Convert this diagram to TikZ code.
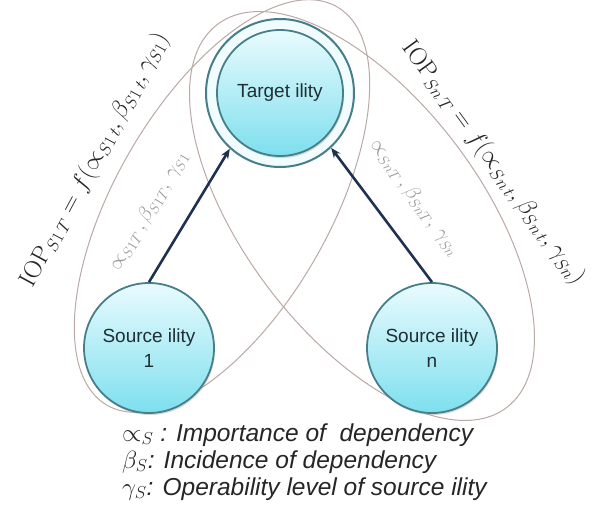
\documentclass[tikz,border=0pt]{standalone}
\usepackage[no-math]{fontspec}
\setmainfont{Liberation Sans}
\usetikzlibrary{arrows.meta,shadows}
\definecolor{ell}{HTML}{BBA9A6}
\definecolor{arrowc}{HTML}{1E3250}
\definecolor{rim}{HTML}{467F89}
\definecolor{ctop}{HTML}{E9FBFE}
\definecolor{cbot}{HTML}{7EDFEE}
\definecolor{graytxt}{HTML}{9A9A9A}
\definecolor{nodetxt}{HTML}{1F2F33}
\begin{document}
\begin{tikzpicture}[x=1pt,y=-1pt,
  ellipseline/.style={draw=ell, line width=1pt},
  ball/.style={circle, draw=rim, line width=1.8pt, top color=ctop, bottom color=cbot,
    minimum size=130pt, inner sep=0pt, align=center, text=nodetxt,
    font=\fontsize{19}{25}\selectfont,
    drop shadow={shadow xshift=1pt, shadow yshift=-2pt, opacity=0.3}},
  ring/.style={circle, draw=rim, line width=2pt, fill=ctop!70, minimum size=148pt, inner sep=0pt},
  arr/.style={draw=arrowc, line width=2.6pt, -{Stealth[length=10pt,width=8pt]}},
  iop/.style={font=\fontsize{23}{28}\selectfont, text=black!85, inner sep=0pt},
  coef/.style={font=\fontsize{20}{24}\selectfont, text=graytxt, inner sep=0pt},
  legend/.style={anchor=base west, font=\fontsize{24.5}{28}\selectfont\itshape, text=black!85, inner sep=0pt}
]
\useasboundingbox (0,0) rectangle (592,513);
\fill[white] (0,0) rectangle (592,513);
\draw[ellipseline, rotate around={60:(222,206)}] (222,206) ellipse [x radius=230pt, y radius=107pt];
\draw[ellipseline, rotate around={-53:(362,216)}] (362,216) ellipse [x radius=240pt, y radius=118pt];
\node[ring] (tgt) at (280,93) {};
\node[ball, minimum size=126pt] (tin) at (tgt) {Target ility};
\node[ball] (s1) at (149,348) {Source ility\\1};
\node[ball] (sn) at (432,348) {Source ility\\n};
\draw[arr] (s1.north) -- (tgt.228);
\draw[arr] (sn.north) -- (tgt.313);
\node[iop, rotate=61.5] (iop1) at (95,160) {$\mathrm{IOP}_{S1\,T} = f(\propto_{S1\,t},\beta_{S1\,t},\gamma_{S1})$};
\node[iop, rotate=-54] (iopn) at (493,163) {$\mathrm{IOP}_{Sn\,T} = f(\propto_{Sn\,t},\beta_{Sn\,t},\gamma_{Sn})$};
\node[coef, rotate=59] (c1) at (149,211) {$\propto_{S1T}\,,\beta_{S1T},\,\gamma_{S1}$};
\node[coef, rotate=-54] (cn) at (415,198) {$\propto_{SnT}\,,\beta_{SnT},\,\gamma_{Sn}$};
\node[legend] (l1) at (122,441) {$\propto_S$ : Importance of\ \ dependency};
\node[legend] (l2) at (122,468) {$\beta_S$: Incidence of dependency};
\node[legend] (l3) at (122,495) {$\gamma_S$: Operability level of source ility};
\end{tikzpicture}
\end{document}
